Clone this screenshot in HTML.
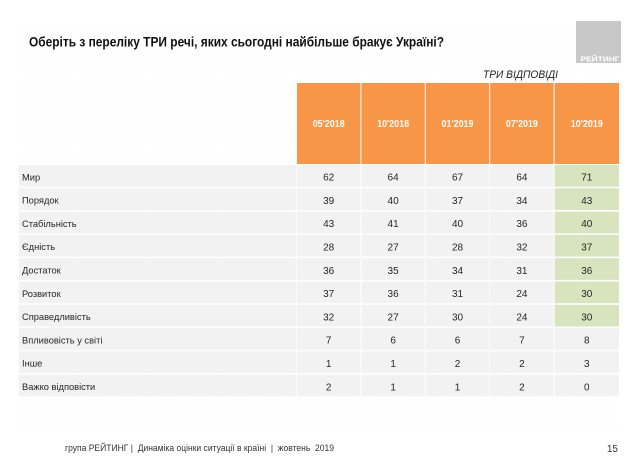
<!DOCTYPE html>
<html><head><meta charset="utf-8"><style>
html,body{margin:0;padding:0;background:#fff;}
svg{display:block;}
text{font-family:"Liberation Sans",Arial,sans-serif;}
</style></head><body>
<svg width="638" height="456" viewBox="0 0 638 456" xmlns="http://www.w3.org/2000/svg">
<defs>
<pattern id="g" width="9" height="9" patternUnits="userSpaceOnUse">
<path d="M9 0V9M0 9H9" stroke="#f4f4f4" stroke-width="0.6" fill="none"/>
</pattern>
</defs>
<rect width="638" height="456" fill="#fff"/>
<rect x="18" y="22" width="602" height="411" fill="url(#g)"/>

<!-- logo -->
<rect x="576" y="21" width="45" height="42" fill="#c8c8c8"/>
<text x="600" y="61.5" font-size="7" font-weight="bold" fill="#fff" text-anchor="middle" textLength="39" lengthAdjust="spacingAndGlyphs">РЕЙТИНГ</text>

<!-- title -->
<text x="29" y="46.7" font-size="14" font-weight="bold" fill="#111" textLength="415" lengthAdjust="spacingAndGlyphs">Оберіть з переліку ТРИ речі, яких сьогодні найбільше бракує Україні?</text>

<text x="558" y="78" font-size="11" font-style="italic" fill="#222" text-anchor="end" textLength="75" lengthAdjust="spacingAndGlyphs">ТРИ ВІДПОВІДІ</text>

<!-- header -->
<g fill="#f79646">
<rect x="297" y="83" width="63.4" height="81"/>
<rect x="361.4" y="83" width="63.4" height="81"/>
<rect x="425.8" y="83" width="63.4" height="81"/>
<rect x="490.2" y="83" width="63.4" height="81"/>
<rect x="554.6" y="83" width="64.4" height="81"/>
</g>
<g font-size="10" font-weight="bold" fill="#fff" text-anchor="middle">
<text x="328.7" y="127" textLength="32" lengthAdjust="spacingAndGlyphs">05'2018</text>
<text x="393.1" y="127" textLength="32" lengthAdjust="spacingAndGlyphs">10'2018</text>
<text x="457.5" y="127" textLength="32" lengthAdjust="spacingAndGlyphs">01'2019</text>
<text x="521.9" y="127" textLength="32" lengthAdjust="spacingAndGlyphs">07'2019</text>
<text x="586.8" y="127" textLength="32" lengthAdjust="spacingAndGlyphs">10'2019</text>
</g>

<g font-size="9.3" fill="#262626">
<g fill="#f2f2f2">
<rect x="19" y="165" width="277" height="21.7"/><rect x="297" y="165" width="63.4" height="21.7"/><rect x="361.4" y="165" width="63.4" height="21.7"/><rect x="425.8" y="165" width="63.4" height="21.7"/><rect x="490.2" y="165" width="63.4" height="21.7"/>
<rect x="19" y="188.3" width="277" height="21.7"/><rect x="297" y="188.3" width="63.4" height="21.7"/><rect x="361.4" y="188.3" width="63.4" height="21.7"/><rect x="425.8" y="188.3" width="63.4" height="21.7"/><rect x="490.2" y="188.3" width="63.4" height="21.7"/>
<rect x="19" y="211.6" width="277" height="21.7"/><rect x="297" y="211.6" width="63.4" height="21.7"/><rect x="361.4" y="211.6" width="63.4" height="21.7"/><rect x="425.8" y="211.6" width="63.4" height="21.7"/><rect x="490.2" y="211.6" width="63.4" height="21.7"/>
<rect x="19" y="234.9" width="277" height="21.7"/><rect x="297" y="234.9" width="63.4" height="21.7"/><rect x="361.4" y="234.9" width="63.4" height="21.7"/><rect x="425.8" y="234.9" width="63.4" height="21.7"/><rect x="490.2" y="234.9" width="63.4" height="21.7"/>
<rect x="19" y="258.2" width="277" height="21.7"/><rect x="297" y="258.2" width="63.4" height="21.7"/><rect x="361.4" y="258.2" width="63.4" height="21.7"/><rect x="425.8" y="258.2" width="63.4" height="21.7"/><rect x="490.2" y="258.2" width="63.4" height="21.7"/>
<rect x="19" y="281.5" width="277" height="21.7"/><rect x="297" y="281.5" width="63.4" height="21.7"/><rect x="361.4" y="281.5" width="63.4" height="21.7"/><rect x="425.8" y="281.5" width="63.4" height="21.7"/><rect x="490.2" y="281.5" width="63.4" height="21.7"/>
<rect x="19" y="304.8" width="277" height="21.7"/><rect x="297" y="304.8" width="63.4" height="21.7"/><rect x="361.4" y="304.8" width="63.4" height="21.7"/><rect x="425.8" y="304.8" width="63.4" height="21.7"/><rect x="490.2" y="304.8" width="63.4" height="21.7"/>
<rect x="19" y="328.1" width="277" height="21.7"/><rect x="297" y="328.1" width="63.4" height="21.7"/><rect x="361.4" y="328.1" width="63.4" height="21.7"/><rect x="425.8" y="328.1" width="63.4" height="21.7"/><rect x="490.2" y="328.1" width="63.4" height="21.7"/><rect x="554.6" y="328.1" width="64.4" height="21.7"/>
<rect x="19" y="351.4" width="277" height="21.7"/><rect x="297" y="351.4" width="63.4" height="21.7"/><rect x="361.4" y="351.4" width="63.4" height="21.7"/><rect x="425.8" y="351.4" width="63.4" height="21.7"/><rect x="490.2" y="351.4" width="63.4" height="21.7"/><rect x="554.6" y="351.4" width="64.4" height="21.7"/>
<rect x="19" y="374.7" width="277" height="21.7"/><rect x="297" y="374.7" width="63.4" height="21.7"/><rect x="361.4" y="374.7" width="63.4" height="21.7"/><rect x="425.8" y="374.7" width="63.4" height="21.7"/><rect x="490.2" y="374.7" width="63.4" height="21.7"/><rect x="554.6" y="374.7" width="64.4" height="21.7"/>
</g>
<g fill="#d7e4bd">
<rect x="554.6" y="165" width="64.4" height="21.7"/>
<rect x="554.6" y="188.3" width="64.4" height="21.7"/>
<rect x="554.6" y="211.6" width="64.4" height="21.7"/>
<rect x="554.6" y="234.9" width="64.4" height="21.7"/>
<rect x="554.6" y="258.2" width="64.4" height="21.7"/>
<rect x="554.6" y="281.5" width="64.4" height="21.7"/>
<rect x="554.6" y="304.8" width="64.4" height="21.7"/>
</g>
<text x="22" y="180.3">Мир</text>
<text x="22" y="203.6">Порядок</text>
<text x="22" y="226.9">Стабільність</text>
<text x="22" y="250.2">Єдність</text>
<text x="22" y="273.5">Достаток</text>
<text x="22" y="296.8">Розвиток</text>
<text x="22" y="320.1">Справедливість</text>
<text x="22" y="343.4">Впливовість у світі</text>
<text x="22" y="366.7">Інше</text>
<text x="22" y="390">Важко відповісти</text>
</g>
<g font-size="10" fill="#262626" text-anchor="middle">
<g transform="translate(0,180.6)"><text x="328.7">62</text><text x="393.1">64</text><text x="457.5">67</text><text x="521.9">64</text><text x="586.8">71</text></g>
<g transform="translate(0,203.9)"><text x="328.7">39</text><text x="393.1">40</text><text x="457.5">37</text><text x="521.9">34</text><text x="586.8">43</text></g>
<g transform="translate(0,227.2)"><text x="328.7">43</text><text x="393.1">41</text><text x="457.5">40</text><text x="521.9">36</text><text x="586.8">40</text></g>
<g transform="translate(0,250.5)"><text x="328.7">28</text><text x="393.1">27</text><text x="457.5">28</text><text x="521.9">32</text><text x="586.8">37</text></g>
<g transform="translate(0,273.8)"><text x="328.7">36</text><text x="393.1">35</text><text x="457.5">34</text><text x="521.9">31</text><text x="586.8">36</text></g>
<g transform="translate(0,297.1)"><text x="328.7">37</text><text x="393.1">36</text><text x="457.5">31</text><text x="521.9">24</text><text x="586.8">30</text></g>
<g transform="translate(0,320.4)"><text x="328.7">32</text><text x="393.1">27</text><text x="457.5">30</text><text x="521.9">24</text><text x="586.8">30</text></g>
<g transform="translate(0,343.7)"><text x="328.7">7</text><text x="393.1">6</text><text x="457.5">6</text><text x="521.9">7</text><text x="586.8">8</text></g>
<g transform="translate(0,367)"><text x="328.7">1</text><text x="393.1">1</text><text x="457.5">2</text><text x="521.9">2</text><text x="586.8">3</text></g>
<g transform="translate(0,390.3)"><text x="328.7">2</text><text x="393.1">1</text><text x="457.5">1</text><text x="521.9">2</text><text x="586.8">0</text></g>
</g>

<!-- footer -->
<text x="65" y="451" font-size="9" fill="#333" textLength="269" lengthAdjust="spacingAndGlyphs" xml:space="preserve">група РЕЙТИНГ |  Динаміка оцінки ситуації в країні  |  жовтень  2019</text>
<text x="618" y="452" font-size="10" fill="#333" text-anchor="end">15</text>
</svg>
</body></html>
